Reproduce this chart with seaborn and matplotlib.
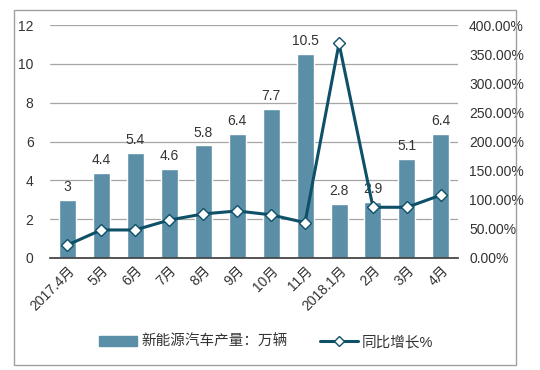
import matplotlib
matplotlib.use('Agg')
import matplotlib.pyplot as plt
import seaborn as sns
import numpy as np
from matplotlib.patches import Rectangle
from matplotlib.lines import Line2D
from matplotlib.ticker import FuncFormatter

months = ['2017.4月', '5月', '6月', '7月', '8月', '9月', '10月', '11月',
          '2018.1月', '2月', '3月', '4月']
production = [3, 4.4, 5.4, 4.6, 5.8, 6.4, 7.7, 10.5, 2.8, 2.9, 5.1, 6.4]
growth = [22, 48, 48, 65, 75.5, 80.7, 74, 60.6, 368.5, 87, 87, 108]

bar_color = '#5B8FA8'
line_color = '#0E5068'
text_color = '#333333'

sns.set_theme(style='white')
plt.rcParams['font.family'] = ['Liberation Sans', 'Noto Sans CJK SC', 'DejaVu Sans']

fig = plt.figure(figsize=(5.4, 3.7), dpi=100)
ax = fig.add_axes([0.093, 0.303, 0.755, 0.629])

sns.barplot(x=months, y=production, color=bar_color, width=0.5,
            saturation=1, ax=ax, zorder=2)
for i, v in enumerate(production):
    ax.text(i, v + 0.3, f'{v:g}', ha='center', va='bottom',
            fontsize=10, color=text_color, zorder=5)

ax.set_ylim(0, 12)
ax.set_yticks(range(0, 13, 2))
ax.set_xlim(-0.5, len(months) - 0.5)
ax.yaxis.grid(True, color='#A6A6A6', linewidth=0.9)
ax.set_axisbelow(True)
for s in ['top', 'right', 'left']:
    ax.spines[s].set_visible(False)
ax.spines['bottom'].set_color('#404040')
ax.tick_params(axis='both', length=0, labelsize=10, colors=text_color)
ax.tick_params(axis='y', pad=12)
ax.tick_params(axis='x', pad=4)
plt.setp(ax.get_xticklabels(), rotation=45, ha='right', rotation_mode='anchor')

ax2 = ax.twinx()
sns.pointplot(x=months, y=growth, ax=ax2, color=line_color, markers='D',
              markersize=6, markerfacecolor='white', markeredgecolor=line_color,
              markeredgewidth=1, linewidth=2.2)
ax2.set_ylim(0, 400)
ax2.set_yticks(range(0, 401, 50))
ax2.yaxis.set_major_formatter(FuncFormatter(lambda v, p: f'{v:.2f}%'))
ax2.set_xlim(-0.5, len(months) - 0.5)
for s in ['top', 'right', 'left', 'bottom']:
    ax2.spines[s].set_visible(False)
ax2.tick_params(axis='y', length=0, labelsize=10, colors=text_color, pad=8)
ax2.set_ylabel('')
ax2.grid(False)

handles = [Rectangle((0, 0), 1, 1, color=bar_color),
           Line2D([0], [0], color=line_color, linewidth=2.2, marker='D',
                  markersize=5, markerfacecolor='white', markeredgecolor=line_color)]
leg = fig.legend(handles, ['新能源汽车产量：万辆', '同比增长%'], loc='center',
                 bbox_to_anchor=(0.493, 0.075), ncol=2, frameon=False, fontsize=10.5,
                 handlelength=2.6, handletextpad=0.3, columnspacing=2.2)
for t in leg.get_texts():
    t.set_color(text_color)

fig.patches.append(Rectangle((14 / 540, 5 / 370), 502 / 540, 355 / 370,
                             transform=fig.transFigure, fill=False,
                             edgecolor='#A0A0A0', linewidth=1))

fig.savefig('out.png', dpi=100)
